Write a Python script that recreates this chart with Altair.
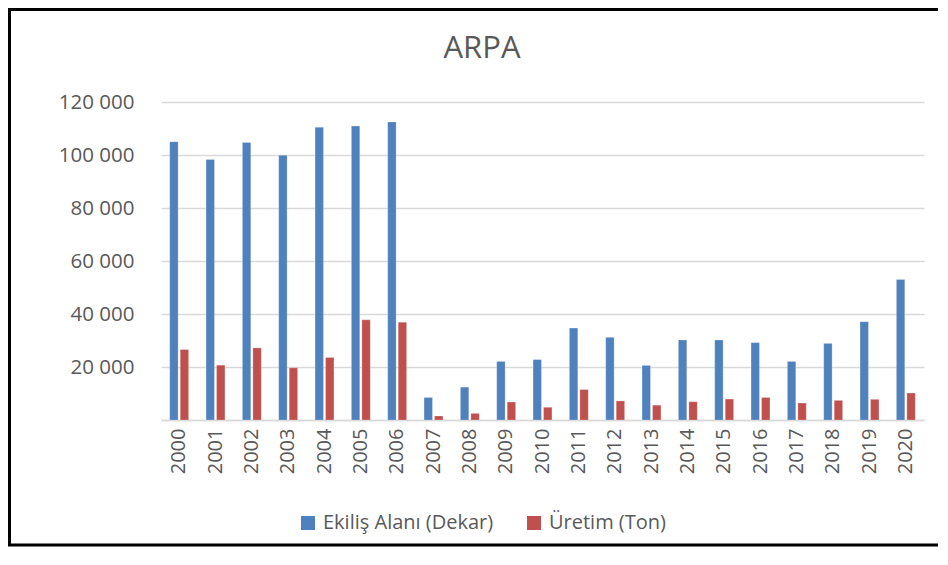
import altair as alt
import pandas as pd

years = [str(y) for y in range(2000, 2021)]
ekilis = [105000, 98300, 104700, 99900, 110500, 110900, 112500, 8500, 12400, 22100,
          22800, 34700, 31200, 20600, 30200, 30200, 29200, 22100, 28900, 37100, 53000]
uretim = [26600, 20700, 27200, 19700, 23600, 37800, 36900, 1500, 2500, 6800,
          4800, 11500, 7200, 5600, 6900, 7900, 8500, 6400, 7400, 7800, 10200]
series_names = ["Ekiliş Alanı (Dekar)", "Üretim (Ton)"]
series_colors = ["#4F81BD", "#C0504D"]
title_text = "ARPA"

rows = []
for i, y in enumerate(years):
    rows.append({"year": y, "series": series_names[0], "value": ekilis[i]})
    rows.append({"year": y, "series": series_names[1], "value": uretim[i]})
df = pd.DataFrame(rows)

FONT = "Open Sans"
TXT = "#595959"
GRID = "#D9D9D9"

bars = alt.Chart(df).mark_bar(stroke="white", strokeWidth=0.4, strokeOpacity=0.6).encode(
    x=alt.X("year:N", sort=years, title=None,
            scale=alt.Scale(paddingInner=0.48, paddingOuter=0.24),
            axis=alt.Axis(labelAngle=-90, labelFontSize=20, labelFont=FONT, labelColor=TXT,
                          labelPadding=8, ticks=False, domainColor=GRID, domainWidth=1.5,
                          grid=False)),
    xOffset=alt.XOffset("series:N", sort=series_names,
                        scale=alt.Scale(paddingInner=0.2, paddingOuter=0)),
    y=alt.Y("value:Q", title=None,
            scale=alt.Scale(domain=[0, 120000], nice=False),
            axis=alt.Axis(values=[0, 20000, 40000, 60000, 80000, 100000, 120000],
                          labelExpr="datum.value == 0 ? '' : replace(format(datum.value, ','), ',', ' ')",
                          labelFontSize=20.5, labelFont=FONT, labelColor=TXT, labelPadding=27,
                          ticks=False, domain=False, gridColor=GRID, gridWidth=1.5)),
    color=alt.Color("series:N", sort=series_names,
                    scale=alt.Scale(domain=series_names, range=series_colors),
                    legend=alt.Legend(title=None, orient="none", direction="horizontal",
                                      legendX=137, legendY=411, symbolType="square",
                                      symbolSize=196, symbolStrokeWidth=0,
                                      labelFontSize=20, labelFont=FONT, labelColor=TXT,
                                      labelOffset=5, columnPadding=30, labelLimit=400)),
)

meta = alt.Data(values=[{"t": title_text}])

title_mark = alt.Chart(meta).mark_text(
    font=FONT, fontSize=31, color=TXT, align="center", baseline="alphabetic"
).encode(text="t:N", x=alt.value(321), y=alt.value(-44))

border = alt.Chart(meta).mark_rect(
    fill="transparent", stroke="black", strokeWidth=3
).encode(
    x=alt.value(-151.5), x2=alt.value(800), y=alt.value(-92.5), y2=alt.value(443)
)

chart = alt.layer(bars, title_mark, border).properties(
    width=763, height=318,
    autosize=alt.AutoSizeParams(type="none"),
    padding={"left": 153, "top": 94, "right": 14, "bottom": 134},
).configure_view(stroke=None)

chart.save("out.html", embed_options={"renderer": "svg", "actions": False})
